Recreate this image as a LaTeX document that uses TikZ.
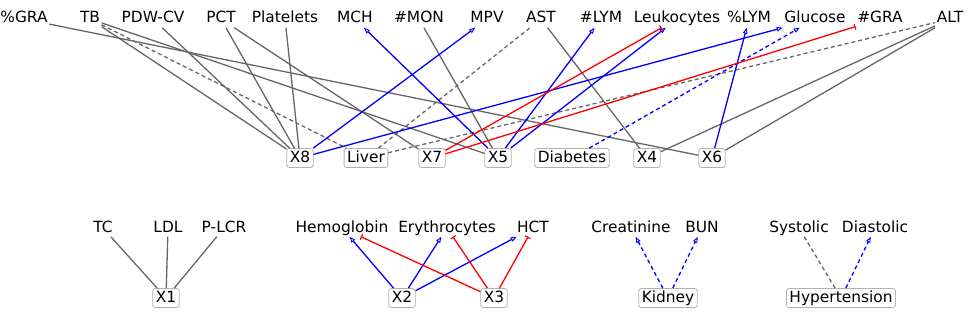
\documentclass[tikz,border=0pt]{standalone}
\usepackage{fontspec}
\setmainfont{DejaVu Sans}
\usetikzlibrary{arrows.meta}

\begin{document}
\begin{tikzpicture}[x=1pt, y=-1pt,
    obs/.style={inner sep=1.5pt, text height=11pt, text depth=3pt,
                font=\fontsize{15.4}{18}\selectfont},
    lat/.style={draw=black!30, rounded corners=2.5pt, fill=white, inner xsep=3pt, inner ysep=2.5pt,
                line width=0.8pt, text height=11pt, text depth=3pt, font=\fontsize{15.4}{18}\selectfont},
    link/.style={line width=1.3pt, black!60},
    uplink/.style={line width=1.3pt, blue, -{Triangle[open, length=6pt, width=4.5pt, line width=0.9pt]}},
    downlink/.style={line width=1.3pt, red, -{Bar[width=6pt, line width=1.2pt]}},
    broken/.style={dash pattern=on 4pt off 3pt},
]
\useasboundingbox (0,0) rectangle (969,321);

\node[obs] (pgra)  at (24,19)  {\%GRA};
\node[obs] (tb)    at (90,19)  {TB};
\node[obs] (pdwcv) at (153,19) {PDW-CV};
\node[obs] (pct)   at (221,19) {PCT};
\node[obs] (plt)   at (285,19) {Platelets};
\node[obs] (mch)   at (355,19) {MCH};
\node[obs] (nmon)  at (419,19) {\#MON};
\node[obs] (mpv)   at (487,19) {MPV};
\node[obs] (ast)   at (541,19) {AST};
\node[obs] (nlym)  at (601,19) {\#LYM};
\node[obs] (leu)   at (677,19) {Leukocytes};
\node[obs] (plym)  at (749,19) {\%LYM};
\node[obs] (glu)   at (815,19) {Glucose};
\node[obs] (ngra)  at (880,19) {\#GRA};
\node[obs] (alt)   at (950,19) {ALT};

\node[lat] (x8)    at (300,158) {X8};
\node[lat] (liver) at (366,158) {Liver};
\node[lat] (x7)    at (432,158) {X7};
\node[lat] (x5)    at (498,158) {X5};
\node[lat] (diab)  at (572,158) {Diabetes};
\node[lat] (x4)    at (647,158) {X4};
\node[lat] (x6)    at (712,158) {X6};

\node[obs] (tc)    at (103,228) {TC};
\node[obs] (ldl)   at (168,228) {LDL};
\node[obs] (plcr)  at (224,228) {P-LCR};
\node[obs] (hgb)   at (342,228) {Hemoglobin};
\node[obs] (ery)   at (447,228) {Erythrocytes};
\node[obs] (hct)   at (533,228) {HCT};
\node[obs] (crea)  at (631,228) {Creatinine};
\node[obs] (bun)   at (702,228) {BUN};
\node[obs] (sys)   at (799,228) {Systolic};
\node[obs] (dia)   at (875,228) {Diastolic};

\node[lat] (x1)     at (166,298) {X1};
\node[lat] (x2)     at (402,298) {X2};
\node[lat] (x3)     at (494,298) {X3};
\node[lat] (kidney) at (668,298) {Kidney};
\node[lat] (hyp)    at (841,298) {Hypertension};

\draw[link] (tb) -- (x8);
\draw[link] (pdwcv) -- (x8);
\draw[link] (pct) -- (x8);
\draw[link] (plt) -- (x8);
\draw[link] (pct) -- (x7);
\draw[link] (tb) -- (x5);
\draw[link] (nmon) -- (x5);
\draw[link] (pgra) -- (x6);
\draw[link] (ast) -- (x4);
\draw[link] (alt) -- (x4);
\draw[link] (alt) -- (x6);
\draw[link, broken] (tb) -- (liver);
\draw[link, broken] (liver) -- (ast);
\draw[link, broken] (liver) -- (alt);

\draw[uplink] (x8) -- (mpv);
\draw[uplink] (x8) -- (glu);
\draw[uplink] (x5) -- (mch);
\draw[uplink] (x5) -- (nlym);
\draw[uplink] (x5) -- (leu);
\draw[uplink] (x6) -- (plym);
\draw[uplink, broken] (diab) -- (glu);
\draw[downlink] (x7) -- (leu);
\draw[downlink] (x7) -- (ngra);

\draw[link] (tc) -- (x1);
\draw[link] (ldl) -- (x1);
\draw[link] (plcr) -- (x1);
\draw[uplink] (x2) -- (hgb);
\draw[uplink] (x2) -- (ery);
\draw[uplink] (x2) -- (hct);
\draw[downlink] (x3) -- (hgb);
\draw[downlink] (x3) -- (ery);
\draw[downlink] (x3) -- (hct);
\draw[uplink, broken] (kidney) -- (crea);
\draw[uplink, broken] (kidney) -- (bun);
\draw[link, broken] (hyp) -- (sys);
\draw[uplink, broken] (hyp) -- (dia);
\end{tikzpicture}
\end{document}
